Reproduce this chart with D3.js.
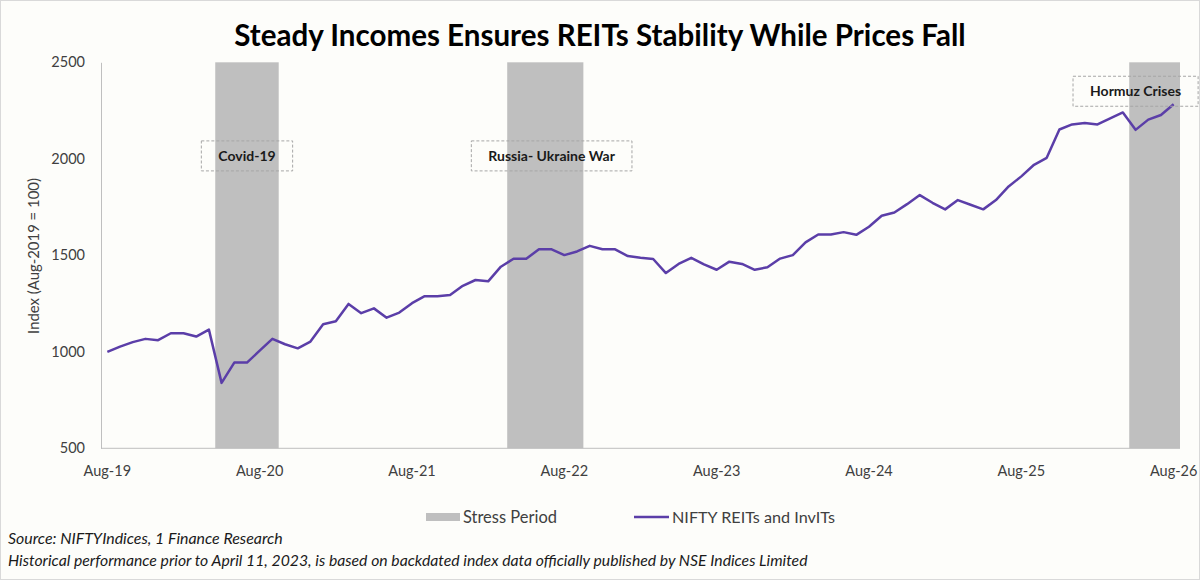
<!DOCTYPE html>
<html>
<head>
<meta charset="utf-8">
<script src="https://cdn.jsdelivr.net/npm/d3@7"></script>
<style>
    html, body { margin: 0; padding: 0; background: #fdfdfa; }
    svg { display: block; font-family: Lato, "Noto Sans", sans-serif; }
</style>
</head>
<body>
<div id="chart"></div>
<script>
// Monthly index level, Aug-19 .. Aug-26
const indexValues = [
    1000, 1027, 1050, 1067, 1060, 1096, 1096, 1079, 1115, 839,
    944, 944, 1006, 1067, 1039, 1018, 1053, 1143, 1158, 1248,
    1200, 1225, 1177, 1203, 1252, 1288, 1288, 1294, 1342, 1372,
    1365, 1441, 1482, 1482, 1531, 1531, 1501, 1520, 1549, 1531,
    1531, 1496, 1487, 1481, 1408, 1455, 1487, 1453, 1425, 1467,
    1455, 1425, 1438, 1483, 1501, 1567, 1608, 1608, 1620, 1606,
    1648, 1705, 1722, 1765, 1812, 1772, 1738, 1786, 1762, 1738,
    1786, 1857, 1909, 1969, 2005, 2152, 2178, 2186, 2178, 2209,
    2240, 2150, 2203, 2227, 2283
];

const tickLabels = ['Aug-19', 'Aug-20', 'Aug-21', 'Aug-22', 'Aug-23', 'Aug-24', 'Aug-25', 'Aug-26'];
const yTicks = [500, 1000, 1500, 2000, 2500];

const stressLabels = ['Covid-19', 'Russia- Ukraine War', 'Hormuz Crises'];
const stressStart = ['May-20', 'Apr-22', 'May-26'];
const stressEnd = ['Sep-20', 'Sep-22', 'Aug-26'];

const formatMonth = d3.timeFormat('%b-%y');
const months = d3.timeMonth.range(new Date(2019, 7, 1), new Date(2026, 8, 1)).map(formatMonth);
const series = months.map((month, i) => ({ month, value: indexValues[i] }));

const width = 1200;
const height = 580;
const textColor = '#404040';
const lineColor = '#5b3ea8';
const bandColor = '#bfbfbf';
const axisColor = '#bfbfbf';

const svg = d3.select('#chart').append('svg')
    .attr('width', width)
    .attr('height', height);

svg.append('rect')
    .attr('x', 0.5).attr('y', 0.5)
    .attr('width', width - 1).attr('height', height - 1)
    .attr('fill', '#fdfdfa')
    .attr('stroke', '#d9d9d9');

const plot = { left: 101, right: 1180, top: 62.3, bottom: 448.3 };

const xScale = d3.scaleBand()
    .domain(months)
    .range([plot.left, plot.right])
    .padding(0);
const xCenter = (month) => xScale(month) + xScale.bandwidth() / 2;

const yScale = d3.scaleLinear()
    .domain([500, 2500])
    .range([plot.bottom, plot.top]);

// shrink or grow a text's font so it spans a given width
function fitWidth(selection, baseSize, targetWidth) {
    selection.attr('font-size', baseSize);
    const measured = selection.node().getComputedTextLength();
    selection.attr('font-size', baseSize * targetWidth / measured);
}

const title = svg.append('text')
    .attr('x', width / 2)
    .attr('y', 46)
    .attr('text-anchor', 'middle')
    .attr('font-weight', 700)
    .attr('fill', '#000')
    .text('Steady Incomes Ensures REITs Stability While Prices Fall');
fitWidth(title, 28, 732);

// stress period bands
const periods = stressLabels.map((label, i) => ({ label, start: stressStart[i], end: stressEnd[i] }));

svg.append('g').selectAll('rect')
    .data(periods)
    .enter()
    .append('rect')
    .attr('x', (d) => xScale(d.start))
    .attr('y', yScale(2500))
    .attr('width', (d) => Math.min(xScale(d.end) + xScale.bandwidth(), plot.right) - xScale(d.start))
    .attr('height', yScale(500) - yScale(2500))
    .attr('fill', bandColor);

// axes
svg.append('g')
    .attr('transform', `translate(${plot.left},0)`)
    .call(d3.axisLeft(yScale).tickValues(yTicks).tickFormat(d3.format('d')).tickSize(0).tickPadding(16))
    .call((g) => g.select('.domain').attr('stroke', axisColor))
    .call((g) => g.selectAll('text')
        .attr('fill', textColor)
        .attr('font-size', 14.5)
        .attr('font-family', 'Lato, "Noto Sans", sans-serif'));

svg.append('g')
    .attr('transform', `translate(0,${plot.bottom})`)
    .call(d3.axisBottom(xScale).tickValues(tickLabels).tickSize(0).tickPadding(17))
    .call((g) => g.select('.domain').attr('stroke', axisColor).attr('d', `M${plot.left},0H${plot.right}`))
    .call((g) => g.selectAll('text')
        .attr('fill', textColor)
        .attr('font-size', 14.5)
        .attr('font-family', 'Lato, "Noto Sans", sans-serif'));

const yTitle = svg.append('text')
    .attr('transform', 'rotate(-90)')
    .attr('x', -256)
    .attr('y', 39)
    .attr('text-anchor', 'middle')
    .attr('fill', textColor)
    .text('Index (Aug-2019 = 100)');
fitWidth(yTitle, 14, 156);

// index line
const line = d3.line()
    .x((d) => xCenter(d.month))
    .y((d) => yScale(d.value));

svg.append('path')
    .datum(series)
    .attr('d', line)
    .attr('fill', 'none')
    .attr('stroke', lineColor)
    .attr('stroke-width', 2.5)
    .attr('stroke-linejoin', 'round');

// annotation boxes
const notes = [
    { label: stressLabels[0], month: 'Jul-20', value: 2015 },
    { label: stressLabels[1], month: 'Jul-22', value: 2015 },
    { label: stressLabels[2], month: 'May-26', value: 2350 }
];

notes.forEach((note) => {
    const group = svg.append('g')
        .attr('transform', `translate(${xCenter(note.month)},${yScale(note.value)})`);
    const label = group.append('text')
        .attr('text-anchor', 'middle')
        .attr('dy', '0.35em')
        .attr('font-size', 14)
        .attr('font-weight', 700)
        .attr('fill', '#1a1a1a')
        .text(note.label);
    const labelWidth = label.node().getComputedTextLength();
    group.insert('rect', 'text')
        .attr('x', -labelWidth / 2 - 17)
        .attr('y', -15)
        .attr('width', labelWidth + 34)
        .attr('height', 30)
        .attr('fill', 'none')
        .attr('stroke', '#a6a6a6')
        .attr('stroke-dasharray', '3,2');
});

// legend
const legend = svg.append('g').attr('transform', 'translate(0,517)');
legend.append('rect')
    .attr('x', 426).attr('y', -4)
    .attr('width', 34).attr('height', 8)
    .attr('fill', bandColor);
const stressText = legend.append('text')
    .attr('x', 463).attr('dy', '0.35em')
    .attr('fill', textColor)
    .text('Stress Period');
fitWidth(stressText, 15, 94);
legend.append('line')
    .attr('x1', 634).attr('x2', 669)
    .attr('stroke', lineColor).attr('stroke-width', 2.5);
const lineText = legend.append('text')
    .attr('x', 672).attr('dy', '0.35em')
    .attr('fill', textColor)
    .text('NIFTY REITs and InvITs');
fitWidth(lineText, 15, 163);

// footnotes
const notesText = [
    'Source:  NIFTYIndices, 1 Finance Research',
    'Historical performance prior to April 11, 2023, is based on backdated index data  officially published by NSE Indices Limited'
];
const noteWidths = [275, 800];
svg.append('g').selectAll('text')
    .data(notesText)
    .enter()
    .append('text')
    .attr('x', 8)
    .attr('y', (d, i) => 544 + i * 22)
    .attr('font-style', 'italic')
    .attr('fill', '#1a1a1a')
    .text((d) => d)
    .each(function (d, i) { fitWidth(d3.select(this), 13, noteWidths[i]); });
</script>
</body>
</html>
